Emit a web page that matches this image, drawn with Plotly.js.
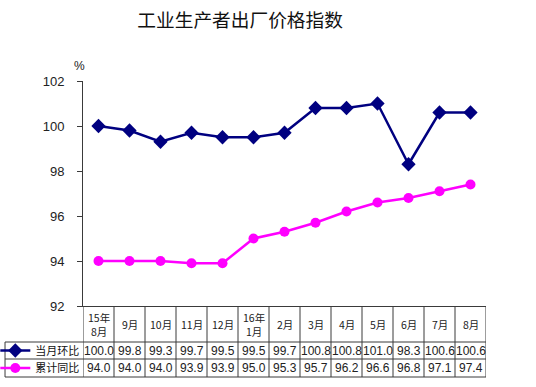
<!DOCTYPE html>
<html>
<head>
<meta charset="utf-8">
<script src="https://cdn.plot.ly/plotly-3.0.1.min.js"></script>
<style>html,body{margin:0;padding:0;background:#fff;}#chart{width:536px;height:387px;}</style>
</head>
<body>
<div id="chart"></div>
<script>
const categories = ["15年<br>8月", "9月", "10月", "11月", "12月", "16年<br>1月", "2月", "3月", "4月", "5月", "6月", "7月", "8月"];
const seriesNames = ["当月环比", "累计同比"];
const monthOnMonth = [100.0, 99.8, 99.3, 99.7, 99.5, 99.5, 99.7, 100.8, 100.8, 101.0, 98.3, 100.6, 100.6];
const cumulativeYoY = [94.0, 94.0, 94.0, 93.9, 93.9, 95.0, 95.3, 95.7, 96.2, 96.6, 96.8, 97.1, 97.4];
const yTicks = [92, 94, 96, 98, 100, 102];

const idx = categories.map((_, i) => i);
const cjk = '"Noto Sans CJK SC", "Liberation Sans", Arial, sans-serif';
const num = '"Liberation Sans", Arial, sans-serif';
const lineCol = '#3a3a3a';

const traces = [
  {x: idx, y: monthOnMonth, name: seriesNames[0], type: 'scatter', mode: 'lines+markers', legend: 'legend',
   line: {color: '#000080', width: 2.5}, marker: {symbol: 'diamond', size: 11, color: '#000080'}},
  {x: idx, y: cumulativeYoY, name: seriesNames[1], type: 'scatter', mode: 'lines+markers', legend: 'legend2',
   line: {color: '#FF00FF', width: 2.5}, marker: {symbol: 'circle', size: 10, color: '#FF00FF'}}
];

// table geometry (paper units below x-axis)
const rowTop = [0, -0.16, -0.2356];
const rowBot = [-0.16, -0.2356, -0.3156];
const legendLeft = -0.1935;

const shapes = [];
const annotations = [];
for (let i = 0; i <= categories.length; i++) {
  shapes.push({type: 'line', xref: 'x', yref: 'paper', x0: i - 0.5, x1: i - 0.5, y0: 0, y1: rowBot[2],
    line: {color: lineCol, width: 1}});
}
[rowBot[0], rowBot[1], rowBot[2]].forEach(y => {
  shapes.push({type: 'line', xref: 'paper', yref: 'paper', x0: legendLeft, x1: 1, y0: y, y1: y, line: {color: lineCol, width: 1}});
});
shapes.push({type: 'line', xref: 'paper', yref: 'paper', x0: legendLeft, x1: legendLeft, y0: rowBot[0], y1: rowBot[2], line: {color: lineCol, width: 1}});

categories.forEach((c, i) => {
  annotations.push({xref: 'x', yref: 'paper', x: i, y: (rowTop[0] + rowBot[0]) / 2, text: c, showarrow: false,
    font: {family: cjk, size: 10.5, color: '#222'}, yanchor: 'middle'});
  annotations.push({xref: 'x', yref: 'paper', x: i, y: (rowTop[1] + rowBot[1]) / 2, text: monthOnMonth[i].toFixed(1), showarrow: false,
    font: {family: num, size: 12, color: '#222'}, yanchor: 'middle'});
  annotations.push({xref: 'x', yref: 'paper', x: i, y: (rowTop[2] + rowBot[2]) / 2, text: cumulativeYoY[i].toFixed(1), showarrow: false,
    font: {family: num, size: 12, color: '#222'}, yanchor: 'middle'});
});
annotations.push({xref: 'paper', yref: 'paper', x: -0.027, y: 1.107, text: '%', showarrow: false,
  font: {family: num, size: 12, color: '#222'}});

const legendCommon = {xanchor: 'left', yanchor: 'middle', orientation: 'v',
  font: {family: cjk, size: 11, color: '#111'}, bgcolor: 'rgba(0,0,0,0)', borderwidth: 0, itemwidth: 30};

const layout = {
  width: 536, height: 387,
  margin: {l: 83, r: 50, t: 81, b: 81, autoexpand: false},
  paper_bgcolor: '#fff', plot_bgcolor: '#fff',
  title: {text: '工业生产者出厂价格指数', x: 0.448, xanchor: 'center', y: 0.948, yanchor: 'middle',
    font: {family: cjk, size: 18.7, color: '#111'}},
  showlegend: true,
  legend: Object.assign({x: -0.2176, y: (rowTop[1] + rowBot[1]) / 2}, legendCommon),
  legend2: Object.assign({x: -0.2176, y: (rowTop[2] + rowBot[2]) / 2}, legendCommon),
  xaxis: {range: [-0.5, categories.length - 0.5], showticklabels: false, showgrid: false, zeroline: false,
    showline: true, linecolor: lineCol, linewidth: 1, ticks: '', fixedrange: true},
  yaxis: {range: [92, 102], tickvals: yTicks, ticktext: yTicks.map(String), showgrid: false, zeroline: false,
    showline: true, linecolor: lineCol, linewidth: 1, ticks: 'outside', ticklen: 5, tickcolor: lineCol,
    tickfont: {family: num, size: 13, color: '#222'}, ticklabelstandoff: 10},
  shapes: shapes,
  annotations: annotations
};

Plotly.newPlot('chart', traces, layout, {displayModeBar: false, staticPlot: true});
</script>
</body>
</html>
